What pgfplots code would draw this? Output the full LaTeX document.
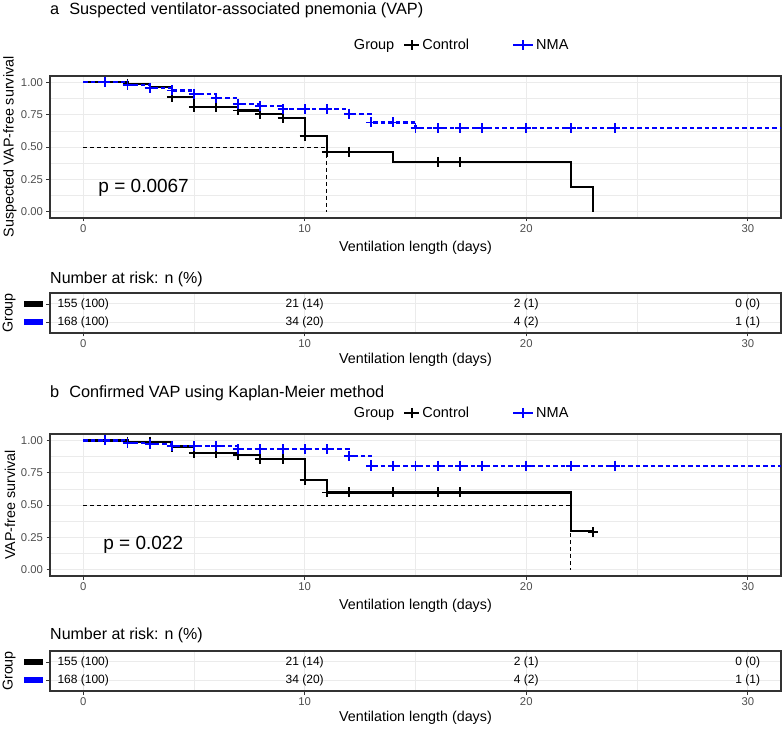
\documentclass[border=0pt]{standalone}
\usepackage{pgfplots}
\pgfplotsset{compat=1.18}
\usepackage{fontspec}
\setmainfont{Liberation Sans}
\definecolor{tickgray}{HTML}{4D4D4D}
\definecolor{gridgray}{HTML}{EBEBEB}
\definecolor{framegray}{HTML}{333333}
\definecolor{nmablue}{HTML}{0000FF}

\pgfplotsset{
  kmbase/.style={
    scale only axis,
    width=731pt,
    xmin=-1.5, xmax=31.5,
    xtick={0,10,20,30},
    minor xtick={5,15,25},
    xmajorgrids, xminorgrids,
    major grid style={gridgray, line width=0.9pt},
    minor grid style={gridgray, line width=0.5pt},
    axis line style={framegray, line width=1.1pt},
    tick style={framegray, line width=0.8pt},
    major tick length=3.5pt,
    minor tick length=0pt,
    tick align=outside,
    xtick pos=bottom, ytick pos=left,
    /pgf/number format/assume math mode=true,
    ticklabel style={font=\fontsize{11.3}{13}\selectfont, text=tickgray},
    label style={font=\fontsize{14.3}{17}\selectfont},
    xlabel={Ventilation length (days)},
    xlabel style={at={(axis description cs:0.5,0)}, anchor=center, inner sep=0pt},
    ylabel style={at={(axis description cs:0,0.5)}, anchor=center, inner sep=0pt},
  },
  kmmain/.style={
    kmbase, height=142pt,
    ymin=-0.05, ymax=1.05,
    ytick={0,0.25,0.5,0.75,1},
    minor ytick={0.125,0.375,0.625,0.875},
    ymajorgrids, yminorgrids,
    yticklabel style={/pgf/number format/.cd, fixed, fixed zerofill, precision=2},
    xlabel style={yshift=-30pt},
    ylabel style={yshift=40pt},
    legend style={draw=none, fill=none, inner sep=0pt, outer sep=0pt,
      font=\fontsize{14.5}{17}\selectfont,
      /tikz/every even column/.append style={column sep=0pt}},
    legend columns=-1,
  },
  kmrisk/.style={
    kmbase, height=40pt,
    ymin=0.4, ymax=2.6,
    ytick={1,2},
    yticklabels={{\textcolor{nmablue}{\rule{19pt}{6pt}}},{\textcolor{black}{\rule{19pt}{6pt}}}},
    ymajorgrids,
    ylabel={Group},
    xlabel style={yshift=-27pt},
    ylabel style={yshift=41pt},
  },
  ctrl/.style={black, line width=2.1pt},
  nma/.style={nmablue, line width=2.1pt, dash pattern=on 4.5pt off 3pt},
  cens/.style={only marks, mark=+, mark size=5pt, line width=1.9pt, mark options={solid, line width=1.9pt}},
  med/.style={black, line width=0.8pt, dash pattern=on 4pt off 3pt},
  ctrlleg/.style={ctrl, mark=+, mark size=5pt, mark options={solid, line width=1.9pt},
    legend image code/.code={\draw[mark repeat=2,mark phase=2,##1] plot coordinates {(0pt,0pt) (7.5pt,0pt) (15pt,0pt)};}},
  nmaleg/.style={nma, mark=+, mark size=5pt, mark options={solid, line width=1.9pt},
    legend image code/.code={\draw[mark repeat=2,mark phase=2,##1] plot coordinates {(0pt,0pt) (10pt,0pt) (20pt,0pt)};}},
  risktext/.style={draw=none, mark=none, nodes near coords, point meta=explicit symbolic,
    nodes near coords style={anchor=center, inner sep=0pt, font=\fontsize{12}{14}\selectfont, text=black}},
}

\begin{document}
\begin{tikzpicture}
\useasboundingbox (0,0) rectangle (783pt,731pt);

% ---------------- Panel a ----------------
\node[anchor=west, inner sep=0pt, font=\fontsize{16.3}{19}\selectfont] at (50pt,721pt) {a\hspace{10pt}Suspected ventilator-associated pnemonia (VAP)};

\begin{axis}[kmmain, at={(50pt,513pt)}, anchor=south west,
  ylabel={Suspected VAP-free survival},
  legend style={at={(axis description cs:0.4131,1.218)}, anchor=west}]
\addlegendimage{empty legend}
\addlegendimage{ctrlleg}
\addlegendimage{nmaleg}
\legend{Group\rule{7pt}{0pt}, Control\rule{41pt}{0pt}, NMA}
\addplot[med, forget plot] coordinates {(0,0.5) (11,0.5)};
\addplot[med, forget plot] coordinates {(11,0.5) (11,0)};
\addplot[ctrl, const plot, forget plot] coordinates {
(0,1) (2,0.99) (3,0.965) (4,0.887) (5,0.809) (7,0.783) (8,0.757) (9,0.726) (10,0.583) (11,0.464) (14,0.385) (22,0.19) (23,0) (23,0)};
\addplot[black, cens, forget plot] coordinates {
(2,0.99) (4,0.887) (5,0.809) (6,0.809) (7,0.783) (8,0.757) (9,0.726) (10,0.583) (11,0.464) (12,0.464) (16,0.385) (17,0.385)};
\addplot[nma, const plot, forget plot] coordinates {
(0,1) (2,0.982) (3,0.96) (4,0.938) (5,0.91) (6,0.879) (7,0.835) (8,0.817) (9,0.796) (12,0.758) (13,0.69) (15,0.645) (31.5,0.645)};
\addplot[nmablue, cens, forget plot] coordinates {
(1,1) (2,0.982) (3,0.96) (4,0.938) (5,0.91) (6,0.879) (7,0.835) (8,0.817) (9,0.796) (10,0.796) (11,0.796) (12,0.758) (13,0.69) (14,0.69) (15,0.645) (16,0.645) (17,0.645) (18,0.645) (20,0.645) (22,0.645) (24,0.645)};
\node[anchor=west, inner sep=0pt, font=\fontsize{19}{22}\selectfont] at (axis cs:0.68,0.18) {p = 0.0067};
\end{axis}

\node[anchor=west, inner sep=0pt, font=\fontsize{16}{19}\selectfont] at (50pt,452pt) {Number at risk: n (\%)};

\begin{axis}[kmrisk, at={(50pt,398pt)}, anchor=south west]
\addplot[risktext] table[x=x, y=y, meta=lab, col sep=comma, row sep=\\] {
x,y,lab\\
0,2,155 (100)\\
10,2,21 (14)\\
20,2,2 (1)\\
30,2,0 (0)\\
0,1,168 (100)\\
10,1,34 (20)\\
20,1,4 (2)\\
30,1,1 (1)\\
};
\end{axis}

% ---------------- Panel b ----------------
\node[anchor=west, inner sep=0pt, font=\fontsize{16.3}{19}\selectfont] at (50pt,338pt) {b\hspace{10pt}Confirmed VAP using Kaplan-Meier method};

\begin{axis}[kmmain, at={(50pt,155pt)}, anchor=south west,
  ylabel={VAP-free survival},
  legend style={at={(axis description cs:0.4131,1.148)}, anchor=west}]
\addlegendimage{empty legend}
\addlegendimage{ctrlleg}
\addlegendimage{nmaleg}
\legend{Group\rule{7pt}{0pt}, Control\rule{41pt}{0pt}, NMA}
\addplot[med, forget plot] coordinates {(0,0.5) (22,0.5)};
\addplot[med, forget plot] coordinates {(22,0.5) (22,0)};
\addplot[ctrl, const plot, forget plot] coordinates {
(0,1) (2,0.99) (4,0.953) (5,0.902) (7,0.884) (8,0.855) (10,0.694) (11,0.597) (22,0.30) (23,0.30)};
\addplot[black, cens, forget plot] coordinates {
(2,0.99) (3,0.99) (4,0.953) (5,0.902) (6,0.902) (7,0.884) (8,0.855) (9,0.855) (10,0.694) (11,0.597) (12,0.597) (14,0.597) (16,0.597) (17,0.597) (23,0.29)};
\addplot[nma, const plot, forget plot] coordinates {
(0,1) (2,0.98) (3,0.972) (4,0.958) (7,0.933) (12,0.882) (13,0.805) (31.5,0.805)};
\addplot[nmablue, cens, forget plot] coordinates {
(1,1) (2,0.98) (3,0.972) (4,0.958) (5,0.958) (6,0.958) (7,0.933) (8,0.933) (9,0.933) (10,0.933) (11,0.933) (12,0.882) (13,0.805) (14,0.805) (15,0.805) (16,0.805) (17,0.805) (18,0.805) (20,0.805) (22,0.805) (24,0.805)};
\node[anchor=west, inner sep=0pt, font=\fontsize{19}{22}\selectfont] at (axis cs:0.9,0.19) {p = 0.022};
\end{axis}

\node[anchor=west, inner sep=0pt, font=\fontsize{16}{19}\selectfont] at (50pt,96pt) {Number at risk: n (\%)};

\begin{axis}[kmrisk, at={(50pt,40pt)}, anchor=south west]
\addplot[risktext] table[x=x, y=y, meta=lab, col sep=comma, row sep=\\] {
x,y,lab\\
0,2,155 (100)\\
10,2,21 (14)\\
20,2,2 (1)\\
30,2,0 (0)\\
0,1,168 (100)\\
10,1,34 (20)\\
20,1,4 (2)\\
30,1,1 (1)\\
};
\end{axis}
\end{tikzpicture}
\end{document}
